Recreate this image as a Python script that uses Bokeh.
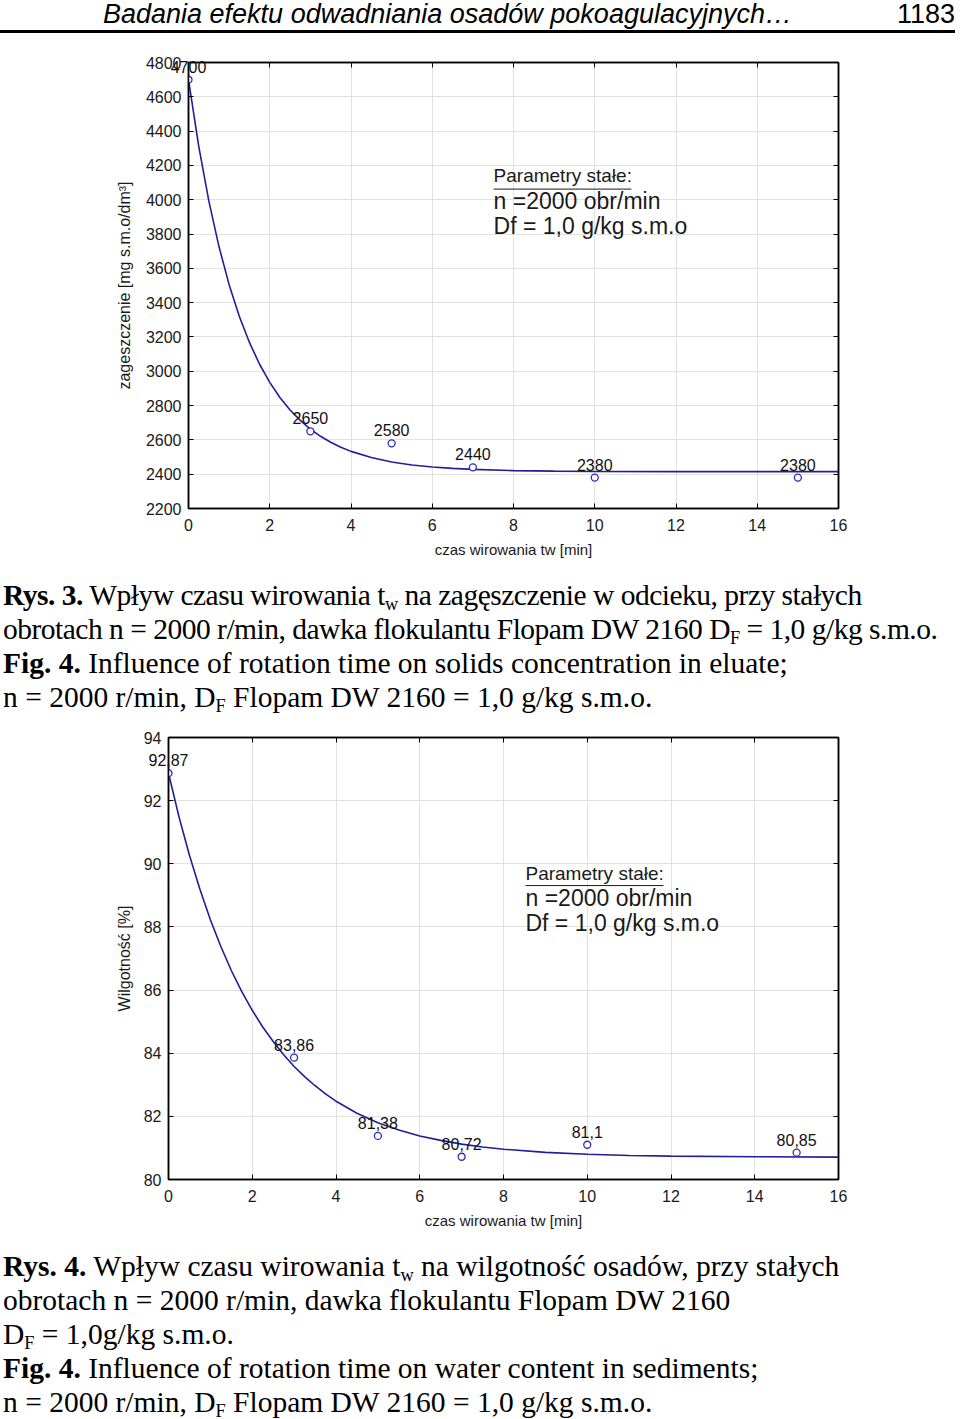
from bokeh.plotting import figure
from bokeh.models import (Div, Range1d, LinearAxis, FixedTicker, Label,
                          ColumnDataSource, CustomJSTickFormatter)
from bokeh.core.properties import value
from bokeh.embed import file_html
from bokeh.resources import INLINE

# ---------------- data ----------------
x_ticks = [0, 2, 4, 6, 8, 10, 12, 14, 16]

# chart 1 : solids concentration
t1 = [0, 3, 5, 7, 10, 15]
c1 = [4700, 2650, 2580, 2440, 2380, 2380]
c1_labels = ["4700", "2650", "2580", "2440", "2380", "2380"]
fit1_x = [0, 0.25, 0.5, 0.75, 1, 1.25, 1.5, 1.75, 2, 2.25, 2.5, 2.75, 3, 3.25, 3.5, 3.75, 4,
          4.5, 5, 5.5, 6, 6.5, 7, 8, 9, 10, 12, 14, 16]
fit1_y = [4700, 4314, 3993, 3727, 3505, 3321, 3168, 3041, 2935, 2847, 2774, 2714, 2663, 2621,
          2586, 2557, 2533, 2497, 2471, 2454, 2442, 2434, 2428, 2421, 2418, 2416, 2415, 2415, 2415]
y1_ticks = [2200, 2400, 2600, 2800, 3000, 3200, 3400, 3600, 3800, 4000, 4200, 4400, 4600, 4800]

# chart 2 : water content
t2 = [0, 3, 5, 7, 10, 15]
w2 = [92.87, 83.86, 81.38, 80.72, 81.1, 80.85]
w2_labels = ["92,87", "83,86", "81,38", "80,72", "81,1", "80,85"]
fit2_x = [0, 0.25, 0.5, 0.75, 1, 1.25, 1.5, 1.75, 2, 2.25, 2.5, 2.75, 3, 3.25, 3.5, 3.75, 4,
          4.5, 5, 5.5, 6, 6.5, 7, 7.5, 8, 9, 10, 11, 12, 14, 16]
fit2_y = [92.87, 91.49, 90.27, 89.19, 88.23, 87.38, 86.62, 85.95, 85.36, 84.83, 84.37, 83.95,
          83.58, 83.26, 82.97, 82.71, 82.48, 82.10, 81.80, 81.57, 81.38, 81.24, 81.12, 81.03,
          80.96, 80.86, 80.80, 80.76, 80.74, 80.72, 80.71]
y2_ticks = [80, 82, 84, 86, 88, 90, 92, 94]

LINE_C = "#1f1f99"
PT_C = "#2b2bbb"
SANS = "Liberation Sans"


def make_chart(height, border_left, ymin, ymax, yticks, ylabel, bt, bb, ystand,
               fx, fy, px, py, plabels, box_x, box_y, ul_y, ul_x1):
    p = figure(width=960, height=height, x_range=Range1d(0, 16), y_range=Range1d(ymin, ymax),
               output_backend="svg", toolbar_location=None,
               min_border_left=border_left, min_border_right=122, min_border_top=bt,
               min_border_bottom=bb, margin=(0, 0, 0, 0))
    p.outline_line_color = "black"
    p.outline_line_width = 1.5
    p.background_fill_color = "white"
    p.border_fill_color = "white"
    p.xaxis.ticker = FixedTicker(ticks=x_ticks)
    p.yaxis.ticker = FixedTicker(ticks=yticks)
    p.grid.grid_line_color = "#e2e2e2"
    p.grid.grid_line_width = 1
    p.xaxis.axis_label = "czas wirowania tw [min]"
    p.yaxis.axis_label = ylabel
    for ax in p.xaxis + p.yaxis:
        ax.axis_line_color = "black"
        ax.axis_line_width = 1.5
        ax.major_tick_in = 5
        ax.major_tick_out = 0
        ax.minor_tick_line_color = None
        ax.major_label_text_font = SANS
        ax.major_label_text_font_size = "16px"
        ax.major_label_text_color = "#1a1a1a"
        ax.axis_label_text_font = SANS
        ax.axis_label_text_font_style = "normal"
        ax.axis_label_text_color = "#1a1a1a"
    p.xaxis.major_label_standoff = 10
    p.xaxis.axis_label_standoff = 7
    p.xaxis.axis_label_text_font_size = "15px"
    p.yaxis.major_label_standoff = 7
    p.yaxis.axis_label_standoff = ystand
    p.yaxis.axis_label_text_font_size = "16px"
    top = LinearAxis(ticker=FixedTicker(ticks=x_ticks),
                     formatter=CustomJSTickFormatter(code="return ''"), major_tick_in=5,
                     major_tick_out=0, minor_tick_line_color=None,
                     axis_line_color="black", axis_line_width=1.5)
    right = LinearAxis(ticker=FixedTicker(ticks=yticks),
                       formatter=CustomJSTickFormatter(code="return ''"), major_tick_in=5,
                       major_tick_out=0, minor_tick_line_color=None,
                       axis_line_color="black", axis_line_width=1.5)
    p.add_layout(top, "above")
    p.add_layout(right, "right")

    p.line(fx, fy, line_color=LINE_C, line_width=1.6)
    src = ColumnDataSource(dict(x=px, y=py, lab=plabels))
    p.scatter("x", "y", source=src, size=7, marker="circle", fill_color="white",
              line_color=PT_C, line_width=1.3)
    # value labels drawn at overlay level so the ones at x=0 may run past the frame edge
    p.text("x", "y", text="lab", source=src, text_align="center", text_baseline="alphabetic",
           y_offset=-13, text_font_size="16px", text_color="#111111",
           text_font=value(SANS), level="overlay")

    lines = ["Parametry stałe:", "n =2000 obr/min", "Df = 1,0 g/kg s.m.o"]
    sizes = ["19px", "23px", "23px"]
    for txt, yy, fs in zip(lines, box_y, sizes):
        p.add_layout(Label(x=box_x, y=yy, text=txt, text_font=SANS, text_font_size=fs,
                           text_color="#1a1a1a", text_baseline="alphabetic"))
    p.segment(x0=[box_x], y0=[ul_y], x1=[ul_x1], y1=[ul_y], line_color="#1a1a1a", line_width=1)
    return p


p1 = make_chart(534, 188, 2200, 4800, y1_ticks, "zageszczenie [mg s.m.o/dm³]", 26, 62, 10,
                fit1_x, fit1_y, t1, c1, c1_labels,
                7.51, [4139, 3993, 3844], 4062, 10.9)
p2 = make_chart(525, 168, 80, 94, y2_ticks, "Wilgotność [%]", 22, 61, 8,
                fit2_x, fit2_y, t2, w2, w2_labels,
                8.525, [89.69, 88.93, 88.14], 89.31, 11.82)

header = Div(width=960, height=36, margin=(0, 0, 0, 0), text=(
    "<div style=\"position:relative;width:960px;height:36px;font-family:'Liberation Sans';color:#000\">"
    "<span style=\"position:absolute;left:103px;top:-5px;font-style:italic;font-size:27px;white-space:nowrap\">"
    "Badania efektu odwadniania osadów pokoagulacyjnych…</span>"
    "<span style=\"position:absolute;left:897px;top:-5px;font-size:27px\">1183</span>"
    "<div style=\"position:absolute;left:0;top:30px;width:955px;height:3px;background:#000\"></div>"
    "</div>"))

SUB = "<sub style=\"font-size:62%;vertical-align:-0.25em;line-height:0\">{}</sub>"
CAP_STYLE = ("font-family:'Liberation Serif';font-size:29.5px;line-height:34px;color:#000;"
             "white-space:nowrap;padding-left:3px;padding-top:{}px")
TIGHT = "<span style=\"letter-spacing:-0.5px\">{}</span>"

cap1 = Div(width=960, height=145, margin=(0, 0, 0, 0), text=(
    "<div style=\"" + CAP_STYLE.format(8) + "\">"
    + TIGHT.format("<b>Rys. 3.</b> Wpływ czasu wirowania t" + SUB.format("w")
                   + " na zagęszczenie w odcieku, przy stałych") + "<br>"
    + TIGHT.format("obrotach n = 2000 r/min, dawka flokulantu Flopam DW 2160 D" + SUB.format("F")
                   + " = 1,0 g/kg s.m.o.") + "<br>"
    "<b>Fig. 4.</b> Influence of rotation time on solids concentration in eluate;<br>"
    "n = 2000 r/min, D" + SUB.format("F") + " Flopam DW 2160 = 1,0 g/kg s.m.o."
    "</div>"))

cap2 = Div(width=960, height=179, margin=(0, 0, 0, 0), text=(
    "<div style=\"" + CAP_STYLE.format(9) + "\">"
    "<b>Rys. 4.</b> Wpływ czasu wirowania t" + SUB.format("w") + " na wilgotność osadów, przy stałych<br>"
    "obrotach n = 2000 r/min, dawka flokulantu Flopam DW 2160<br>"
    "D" + SUB.format("F") + " = 1,0g/kg s.m.o.<br>"
    "<b>Fig. 4.</b> Influence of rotation time on water content in sediments;<br>"
    "n = 2000 r/min, D" + SUB.format("F") + " Flopam DW 2160 = 1,0 g/kg s.m.o."
    "</div>"))

# independent roots stacked down the page (keeps each chart's own frame geometry)
roots = [header, p1, cap1, p2, cap2]
open("out.html", "w").write(file_html(roots, INLINE))
